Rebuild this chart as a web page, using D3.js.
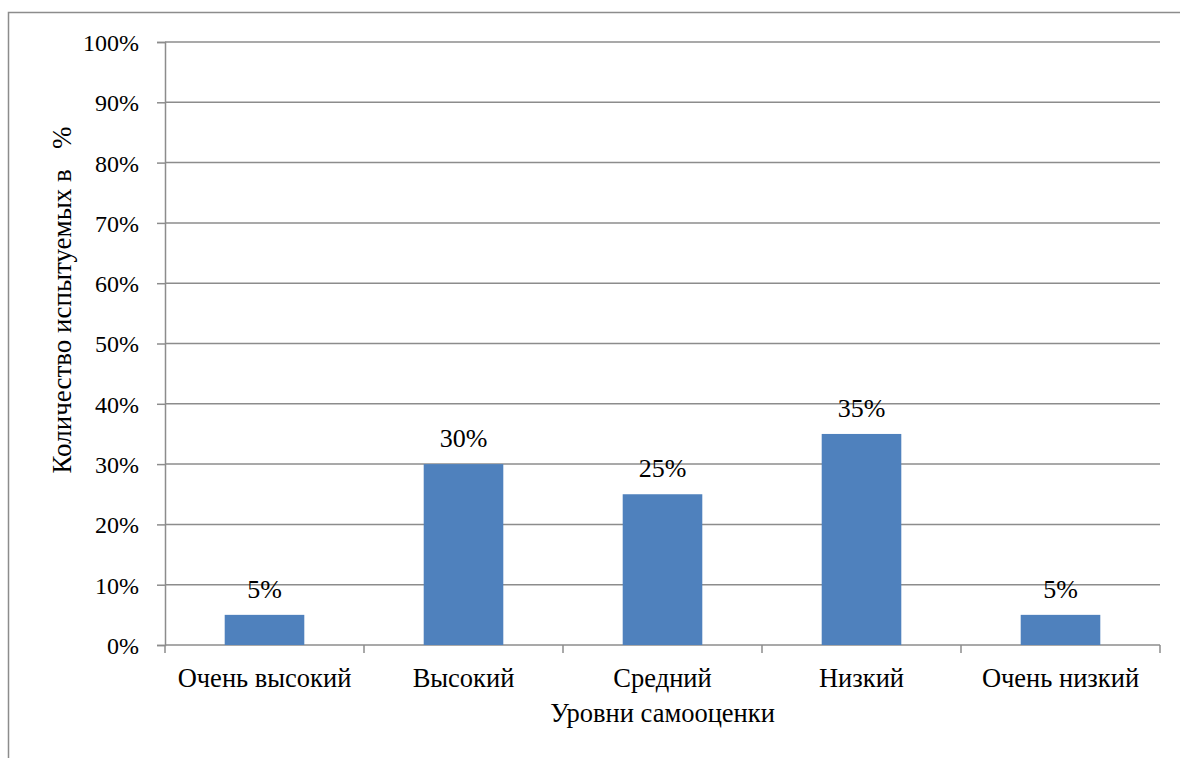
<!DOCTYPE html>
<html><head><meta charset="utf-8">
<script src="https://cdn.jsdelivr.net/npm/d3@7"></script>
<style>body{margin:0;background:#fff}svg{display:block}</style>
</head><body>
<svg id="c" width="1180" height="758"></svg>
<script>
const categories = ["Очень высокий","Высокий","Средний","Низкий","Очень низкий"];
const values = [5,30,25,35,5];
const yTicks = [0,10,20,30,40,50,60,70,80,90,100];
const xTitle = "Уровни самооценки";
const yTitle = "Количество испытуемых в   %";

const FONT = '"Liberation Serif", "Times New Roman", serif';
const svg = d3.select("#c");
const m = {l:165, r:1160, t:42, b:645};
svg.append("rect").attr("x",8.5).attr("y",12.5).attr("width",1200).attr("height",800)
  .attr("fill","none").attr("stroke","#8c8c8c").attr("stroke-width",1.5);

const x = d3.scaleBand().domain(categories).range([m.l,m.r]).paddingInner(0.6).paddingOuter(0.3);
const y = d3.scaleLinear().domain([0,100]).range([m.b,m.t]);

// gridlines
svg.append("g").selectAll("line").data(yTicks.filter(d=>d>0)).join("line")
  .attr("x1",m.l).attr("x2",m.r).attr("y1",d=>y(d)).attr("y2",d=>y(d))
  .attr("stroke","#8c8c8c").attr("stroke-width",1.5);

// y axis
const ya = svg.append("g").attr("transform",`translate(${m.l},0)`)
  .call(d3.axisLeft(y).tickValues(yTicks).tickSize(8).tickPadding(18).tickFormat(d=>d+"%"));
ya.attr("font-family",null).attr("font-size",null);
ya.select(".domain").attr("stroke","#8c8c8c").attr("stroke-width",1.5);
ya.selectAll(".tick line").attr("stroke","#8c8c8c").attr("stroke-width",1.5);
ya.selectAll(".tick text").style("font-family",FONT).style("font-size","24px").attr("dy","0.35em").attr("fill","#000");

// x axis
const xo = d3.scalePoint().domain(d3.range(categories.length+1)).range([m.l,m.r]);
const xa = svg.append("g").attr("transform",`translate(0,${m.b})`);
xa.append("line").attr("x1",m.l).attr("x2",m.r).attr("stroke","#8c8c8c").attr("stroke-width",1.5);
xa.selectAll("line.t").data(d3.range(categories.length+1)).join("line").attr("class","t")
  .attr("x1",d=>xo(d)).attr("x2",d=>xo(d)).attr("y1",0).attr("y2",8)
  .attr("stroke","#8c8c8c").attr("stroke-width",1.5);
xa.selectAll("text").data(categories).join("text")
  .attr("x",d=>x(d)+x.bandwidth()/2).attr("y",42).attr("text-anchor","middle")
  .style("font-family",FONT).style("font-size","26.5px").attr("fill","#000").text(d=>d);

// bars
svg.append("g").selectAll("rect").data(values).join("rect")
  .attr("x",(d,i)=>x(categories[i])).attr("width",x.bandwidth())
  .attr("y",d=>y(d)).attr("height",d=>y(0)-y(d)).attr("fill","#4F81BD");

// labels
svg.append("g").selectAll("text").data(values).join("text")
  .attr("x",(d,i)=>x(categories[i])+x.bandwidth()/2).attr("y",d=>y(d)-17)
  .attr("text-anchor","middle").style("font-family",FONT).style("font-size","26px")
  .attr("fill","#000").text(d=>d+"%");

// titles
svg.append("text").attr("x",(m.l+m.r)/2).attr("y",722).attr("text-anchor","middle")
  .style("font-family",FONT).style("font-size","26.5px").attr("fill","#000").text(xTitle);
svg.append("text").attr("transform",`translate(71,300) rotate(-90)`)
  .attr("text-anchor","middle").style("font-family",FONT).style("font-size","27px")
  .attr("fill","#000").style("white-space","pre").text(yTitle);
</script>
</body></html>
